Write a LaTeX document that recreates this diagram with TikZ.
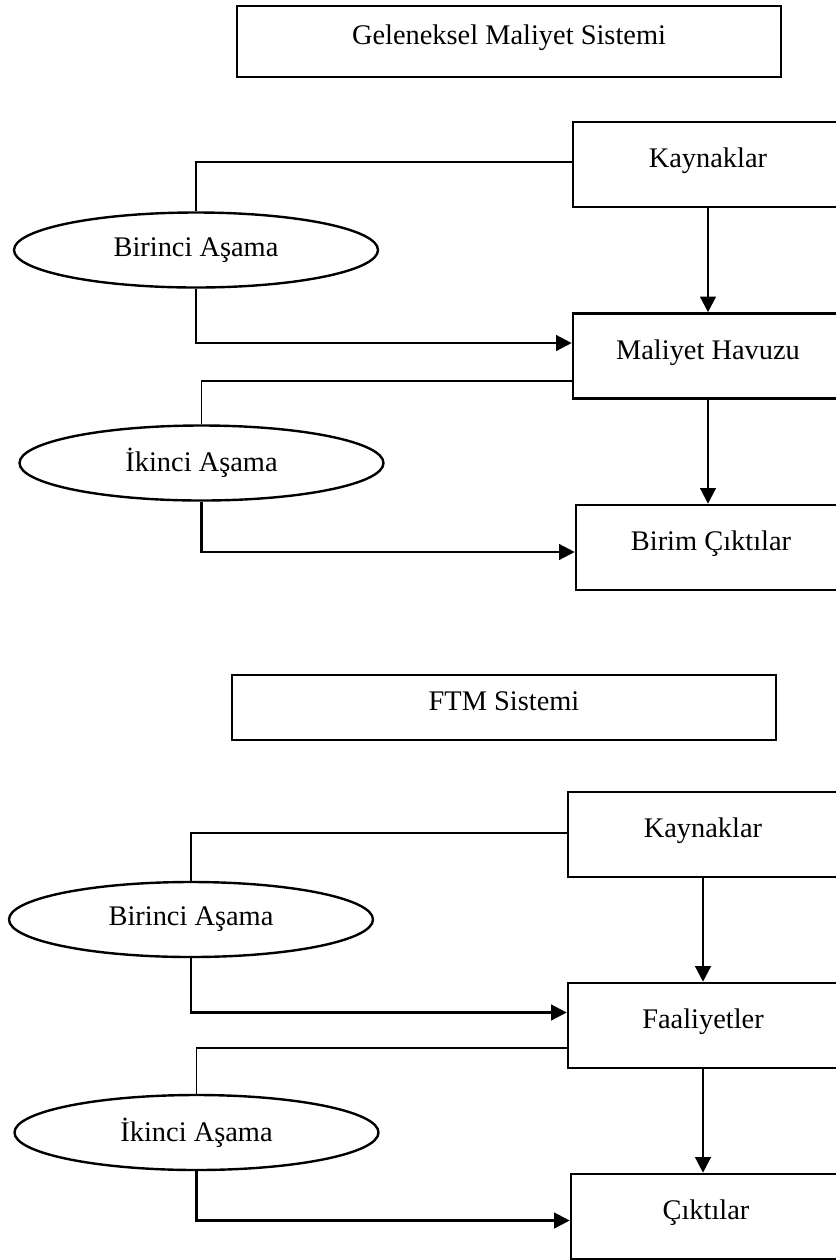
\documentclass[tikz,border=0pt]{standalone}
\usepackage{fontspec}
\setmainfont{Liberation Serif}
\usetikzlibrary{arrows.meta,shapes.geometric}

\begin{document}
\begin{tikzpicture}[
  x=0.5pt,y=-0.5pt,
  font=\fontsize{14.2pt}{17pt}\selectfont,
  box/.style={draw,line width=1.3pt,minimum width=135pt,minimum height=42.5pt,
    inner sep=0pt,text height=10pt,text depth=6.8pt},
  title/.style={box,minimum width=272pt,minimum height=35.5pt},
  stage/.style={draw,ellipse,line width=1.2pt,minimum width=182pt,minimum height=37.5pt,
    inner sep=0pt},
  link/.style={line width=0.6pt},
  ptr/.style={-{Triangle[length=7.8pt,width=7.8pt]},line width=1.2pt},
]
\useasboundingbox (0,0) rectangle (836,1260);
% geleneksel
\node[title] (t1) at (509,41.5) {Geleneksel Maliyet Sistemi};
\node[box] (k1) at (708,164.5) {Kaynaklar};
\node[box] (mh) at (708,356) {Maliyet Havuzu};
\node[box] (bc) at (711,547.5) {Birim Çıktılar};
\node[stage] (b1) at (196,250) {Birinci Aşama};
\node[stage] (i1) at (201.5,463) {İkinci Aşama};
% ftm
\node[title,minimum height=32.5pt] (t2) at (504,707.5) {FTM Sistemi};
\node[box] (k2) at (703,834.5) {Kaynaklar};
\node[box] (fa) at (703,1025.5) {Faaliyetler};
\node[box] (ct) at (706,1216.5) {Çıktılar};
\node[stage] (b2) at (191,919.5) {Birinci Aşama};
\node[stage] (i2) at (196.5,1132.5) {İkinci Aşama};

\foreach \a/\s/\b/\ya/\yb in {k1/b1/mh/1.25pt/6.5pt,mh/i1/bc/-12.5pt/-2.25pt,
                              k2/b2/fa/0.75pt/6.5pt,fa/i2/ct/-11.25pt/-2pt}{
  \draw[link] ([yshift=\ya]\a.west) -| (\s.north);
  \draw[ptr] (\s.south) |- ([yshift=\yb]\b.west);
}
\draw[ptr] (k1.south) -- (mh.north);
\draw[ptr] (mh.south) -- (mh.south |- bc.north);
\draw[ptr] (k2.south) -- (fa.north);
\draw[ptr] (fa.south) -- (fa.south |- ct.north);
\end{tikzpicture}
\end{document}
